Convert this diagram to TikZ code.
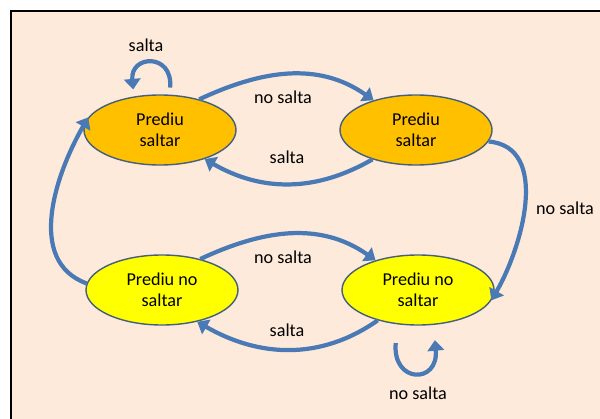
\documentclass[tikz,border=0pt]{standalone}
\usepackage{fontspec}
\setmainfont{Carlito}
\usetikzlibrary{shapes.geometric,arrows.meta}
\definecolor{peach}{HTML}{FDEADA}
\definecolor{saltfill}{HTML}{FFC000}
\definecolor{nosaltfill}{HTML}{FFFF00}
\definecolor{edgegray}{HTML}{46607C}
\definecolor{arrowblue}{HTML}{4A7AB5}
\begin{document}
\begin{tikzpicture}[x=0.03cm,y=0.03cm,
  estado/.style={ellipse,draw=edgegray,line width=1.2pt,minimum width=4.56cm,
    minimum height=2.1cm,inner sep=0pt,align=center,font=\fontsize{15.5}{17.5}\selectfont},
  flecha/.style={draw=arrowblue,line width=3.6pt,-{Triangle[length=9pt,width=14pt]}},
  rotulo/.style={font=\fontsize{15.5}{17.5}\selectfont}]
  \useasboundingbox (0,0) rectangle (600,418);
  \clip (0,0) rectangle (600,418);
  \draw[line width=1.8pt,fill=peach] (11,-10) rectangle (620,407);

  % the four states
  \node[estado,fill=saltfill] (pl) at (160,288) {Prediu\\saltar};
  \node[estado,fill=saltfill] (pr) at (416,288) {Prediu\\saltar};
  \node[estado,fill=nosaltfill] (ql) at (162,128) {Prediu no\\saltar};
  \node[estado,fill=nosaltfill] (qr) at (418,128) {Prediu no\\saltar};

  % labels
  \node[rotulo] (l1) at (146,373) {salta};
  \node[rotulo] (l2) at (283,321) {no salta};
  \node[rotulo] (l3) at (287,261) {salta};
  \node[rotulo] (l4) at (565,210) {no salta};
  \node[rotulo] (l5) at (283,161) {no salta};
  \node[rotulo] (l6) at (287,88) {salta};
  \node[rotulo] (l7) at (418,25) {no salta};

  % transitions
  \draw[flecha] (pl.38) to[out=25,in=145] (pr.145);
  \draw[flecha] (pr.214) to[out=-150,in=-30] (pl.-33);
  \draw[flecha] (pr.-9) to[out=-5,in=60] (qr.-8);
  \draw[flecha] (ql.39) to[out=25,in=145] (qr.145);
  \draw[flecha] (qr.217) to[out=-145,in=-30] (ql.-42);
  \draw[flecha] (ql.175) to[out=160,in=-120] (pl.170);
  \draw[flecha,shorten <=6pt,shorten >=6pt] (pl.75) to[out=85,in=95,looseness=3] (pl.128);
  \draw[flecha,shorten <=16pt,shorten >=13pt] (qr.239) to[out=-95,in=-85,looseness=4.2] (qr.294);
\end{tikzpicture}
\end{document}
